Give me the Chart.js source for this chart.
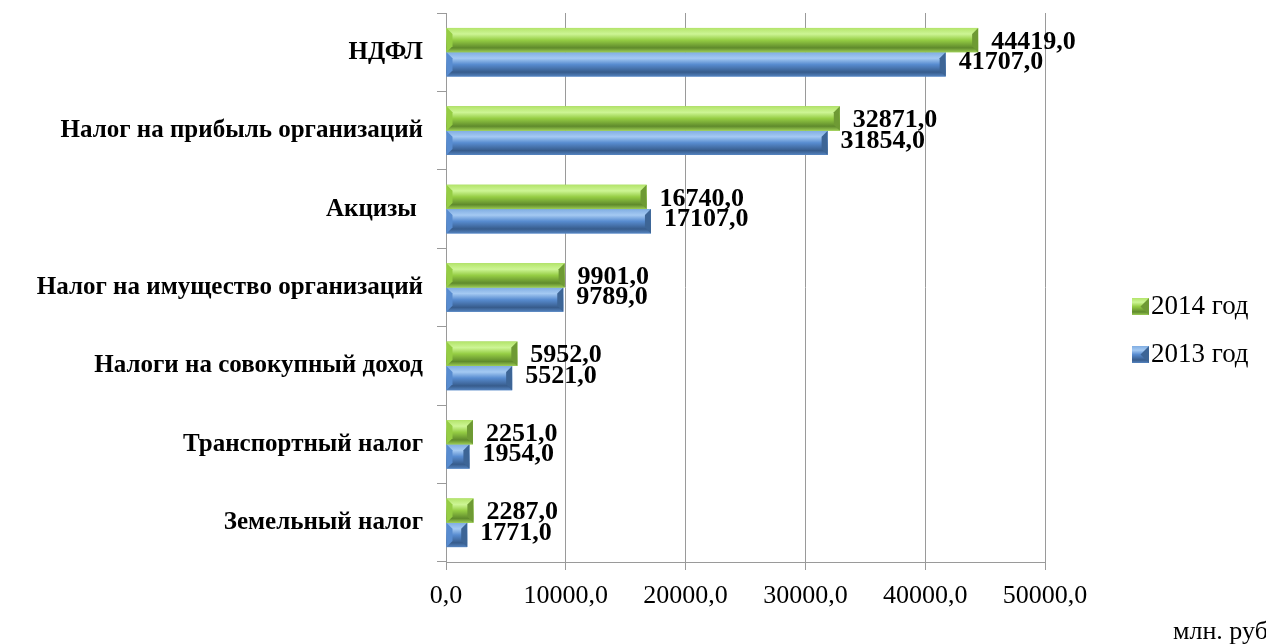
<!DOCTYPE html>
<html>
<head>
<meta charset="utf-8">
<script src="https://cdn.jsdelivr.net/npm/chart.js@4"></script>
<style>
  html, body { margin: 0; padding: 0; background: #fff; }
  #wrap { width: 1266px; height: 644px; }
</style>
</head>
<body>
<div id="wrap"><canvas id="taxChart"></canvas></div>
<script>
// Налоговые поступления, млн. руб
const categories = ['НДФЛ', 'Налог на прибыль организаций', 'Акцизы ', 'Налог на имущество организаций',
    'Налоги на совокупный доход', 'Транспортный налог', 'Земельный налог'];
const values2014 = [44419, 32871, 16740, 9901, 5952, 2251, 2287];
const values2013 = [41707, 31854, 17107, 9789, 5521, 1954, 1771];
const seriesLabels = ['2014 год', '2013 год'];
const xTickMax = 50000;
const xTickStep = 10000;
const unitLabel = 'млн. руб';

const FONT = '"Liberation Serif", "Times New Roman", serif';
const GRID = '#9a9a9a';

// light / mid / dark tones for the bevelled bars
const palette = [
    { top: '#b3e46a', hi: '#cdf595', mid: '#95cd44', dark: '#5f8a2c', edge: '#9ccc55', cap: '#6e9a34' },
    { top: '#80ade2', hi: '#a4c9f2', mid: '#588cd0', dark: '#375c8c', edge: '#5584c0', cap: '#3d6596' }
];

function fmt(v) {
    return v.toFixed(1).replace('.', ',');
}

function barGradient(ctx, top, bottom, p) {
    const g = ctx.createLinearGradient(0, top, 0, bottom);
    g.addColorStop(0, p.top);
    g.addColorStop(0.25, p.hi);
    g.addColorStop(0.5, p.mid);
    g.addColorStop(0.82, p.dark);
    g.addColorStop(1, p.edge);
    return g;
}

// draws the 3D look over each bar
const bevelBars = {
    id: 'bevelBars',
    afterDatasetDraw(chart, args) {
        const ctx = chart.ctx;
        const p = palette[args.index];
        args.meta.data.forEach(function(bar) {
            const b = bar.getProps(['x', 'y', 'base', 'height'], true);
            const top = b.y - b.height / 2;
            const bottom = b.y + b.height / 2;
            const left = b.base;
            const right = b.x;
            const c = Math.min(6, (right - left) / 3);
            ctx.save();
            ctx.fillStyle = barGradient(ctx, top, bottom, p);
            ctx.fillRect(left, top, right - left, bottom - top);
            // right end facet
            ctx.fillStyle = p.cap;
            ctx.beginPath();
            ctx.moveTo(right - c, top + c);
            ctx.lineTo(right, top);
            ctx.lineTo(right, bottom);
            ctx.lineTo(right - c, bottom - c);
            ctx.closePath();
            ctx.fill();
            // left end facet
            ctx.fillStyle = p.mid;
            ctx.beginPath();
            ctx.moveTo(left, top);
            ctx.lineTo(left + c, top + c);
            ctx.lineTo(left + c, bottom - c);
            ctx.lineTo(left, bottom);
            ctx.closePath();
            ctx.fill();
            ctx.restore();
        });
    }
};

const valueLabels = {
    id: 'valueLabels',
    afterDatasetsDraw(chart) {
        const ctx = chart.ctx;
        ctx.save();
        ctx.font = 'bold 26px ' + FONT;
        ctx.fillStyle = '#000';
        ctx.textAlign = 'left';
        ctx.textBaseline = 'middle';
        chart.data.datasets.forEach(function(ds, i) {
            const meta = chart.getDatasetMeta(i);
            meta.data.forEach(function(bar, j) {
                const shift = i === 0 ? 2 : -2;
                ctx.fillText(fmt(ds.data[j]), bar.x + 13, bar.y + shift);
            });
        });
        ctx.restore();
    }
};

const sideLegend = {
    id: 'sideLegend',
    afterDraw(chart) {
        const ctx = chart.ctx;
        const x = chart.chartArea.right + 87;
        const yMid = (chart.chartArea.top + chart.chartArea.bottom) / 2 + 43;
        ctx.save();
        ctx.font = '27px ' + FONT;
        ctx.textBaseline = 'middle';
        ctx.textAlign = 'left';
        chart.data.datasets.forEach(function(ds, i) {
            const y = yMid - 24 + i * 48;
            const p = palette[i];
            const s = 17;
            ctx.fillStyle = barGradient(ctx, y - s / 2, y + s / 2, p);
            ctx.fillRect(x, y - s / 2, s, s);
            ctx.fillStyle = p.cap;
            ctx.beginPath();
            ctx.moveTo(x + s, y - s / 2);
            ctx.lineTo(x + s / 2, y);
            ctx.lineTo(x + s, y + s / 2);
            ctx.closePath();
            ctx.fill();
            ctx.fillStyle = '#000';
            ctx.fillText(ds.label, x + s + 2, y);
        });
        // unit caption
        ctx.font = '26px ' + FONT;
        ctx.fillText(unitLabel, chart.width - 93, chart.height - 12);
        ctx.restore();
    }
};

new Chart(document.getElementById('taxChart'), {
    type: 'bar',
    data: {
        labels: categories,
        datasets: [
            { label: seriesLabels[0], data: values2014, backgroundColor: palette[0].mid },
            { label: seriesLabels[1], data: values2013, backgroundColor: palette[1].mid }
        ]
    },
    options: {
        indexAxis: 'y',
        responsive: true,
        maintainAspectRatio: false,
        animation: false,
        layout: { padding: { top: 0, right: 221, left: 0, bottom: 0 } },
        datasets: {
            bar: { barPercentage: 1, categoryPercentage: 0.62 }
        },
        scales: {
            x: {
                min: 0,
                max: xTickMax,
                ticks: {
                    stepSize: xTickStep,
                    color: '#000',
                    padding: 11,
                    maxRotation: 0,
                    font: { family: FONT, size: 26 },
                    callback: function(v) { return fmt(v); }
                },
                grid: { color: GRID, tickLength: 8, lineWidth: 1 },
                border: { color: GRID },
                afterFit: function(scale) { scale.height = 82; }
            },
            y: {
                ticks: {
                    color: '#000',
                    padding: 14,
                    font: { family: FONT, size: 25, weight: 'bold' }
                },
                grid: { drawOnChartArea: false, color: GRID, tickLength: 9 },
                border: { color: GRID },
                afterFit: function(scale) {
                    scale.width = 446;
                    scale.paddingTop = 13;
                }
            }
        },
        plugins: {
            legend: { display: false },
            tooltip: { enabled: false }
        }
    },
    plugins: [bevelBars, valueLabels, sideLegend]
});
</script>
</body>
</html>
